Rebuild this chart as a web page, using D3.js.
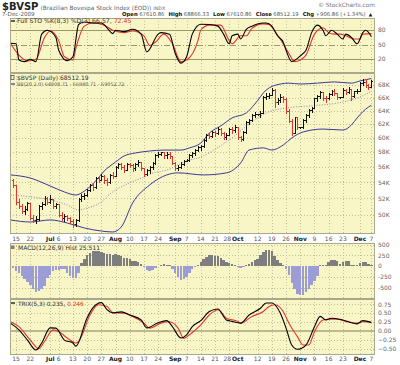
<!DOCTYPE html>
<html>
<head>
<meta charset="utf-8">
<script src="https://cdn.jsdelivr.net/npm/d3@7"></script>
<style>
body { margin: 0; background: #fff; }
text { font-family: "DejaVu Sans", sans-serif; }
</style>
</head>
<body>
<div id="app"></div>
<script>
// trading day index 0 = 12-Jun-2009 ... 126 = 7-Dec-2009 (weekdays)
// prices in thousands
let open = [
54.3, 53.6, 51.5, 51.0, 50.4, 50.6, 51.4, 49.6, 49.3, 49.5,
51.0, 51.2, 52.0, 51.5, 51.9, 51.0, 51.2, 50.0, 49.6, 49.8,
49.6, 49.2, 48.9, 49.3, 51.9, 52.2, 52.4, 53.0, 53.6, 53.3,
54.5, 54.3, 54.8, 54.2, 54.0, 54.9, 54.8, 56.0, 56.3, 56.0,
55.6, 56.4, 56.2, 55.8, 56.3, 56.6, 55.8, 55.0, 55.6, 55.9,
56.5, 57.6, 57.7, 57.9, 57.5, 57.7, 57.4, 56.5, 55.8, 56.0,
56.4, 56.8, 56.9, 57.5, 57.8, 58.3, 58.6, 58.8, 59.6, 60.4,
60.2, 60.8, 60.6, 61.2, 60.7, 60.0, 60.4, 61.2, 61.0, 61.5,
60.0, 59.8, 60.8, 62.2, 62.5, 63.3, 63.4, 63.4, 63.6, 66.0,
66.2, 66.4, 67.2, 65.3, 65.6, 66.0, 65.7, 63.8, 62.4, 60.7,
62.9, 61.5, 61.5, 62.5, 63.2, 64.0, 64.3, 65.8, 66.1, 66.8,
65.9, 65.8, 66.5, 66.9, 66.7, 66.0, 66.0, 67.2, 66.8, 67.3,
66.1, 66.9, 67.0, 68.3, 68.4, 68.0, 67.61
];
let high = [
54.4, 53.6, 51.9, 51.3, 51.1, 51.6, 51.4, 50.0, 49.9, 51.2,
51.6, 52.3, 52.2, 52.4, 51.9, 51.5, 51.3, 50.3, 50.1, 50.0,
49.8, 49.5, 49.5, 52.0, 52.5, 52.7, 53.2, 53.8, 53.9, 54.7,
54.8, 55.1, 54.9, 54.6, 55.1, 55.3, 56.2, 56.6, 56.5, 56.3,
56.6, 56.6, 56.4, 56.5, 56.9, 56.7, 55.8, 55.8, 56.1, 56.7,
57.8, 58.1, 58.1, 58.1, 58.0, 58.0, 57.5, 56.7, 56.3, 56.7,
57.0, 57.1, 57.7, 58.0, 58.5, 58.9, 59.0, 59.8, 60.6, 60.7,
61.0, 61.0, 61.5, 61.4, 60.9, 60.7, 61.4, 61.5, 61.8, 61.6,
60.3, 61.0, 62.4, 62.8, 63.5, 63.8, 63.5, 63.9, 66.2, 66.7,
66.8, 67.5, 67.3, 66.0, 66.5, 66.3, 65.9, 64.2, 62.8, 63.1,
63.0, 61.6, 62.7, 63.5, 64.2, 64.6, 66.0, 66.4, 67.0, 66.9,
66.2, 66.7, 67.2, 67.3, 66.8, 66.1, 67.5, 67.4, 67.6, 67.3,
67.1, 67.3, 68.5, 68.9, 68.9, 68.2, 68.87
];
let low = [
53.4, 51.3, 50.8, 50.2, 50.1, 50.5, 49.5, 49.1, 49.0, 49.4,
50.6, 51.1, 51.2, 51.4, 50.8, 50.8, 49.8, 49.4, 49.2, 49.3,
49.0, 48.5, 48.7, 49.2, 51.6, 51.9, 52.2, 52.8, 53.0, 53.2,
54.0, 54.2, 53.9, 53.6, 53.9, 54.5, 54.8, 55.8, 55.7, 55.3,
55.5, 55.9, 55.4, 55.6, 56.1, 55.6, 54.8, 54.9, 55.1, 55.7,
56.4, 57.3, 57.5, 57.2, 57.2, 57.1, 56.3, 55.6, 55.6, 55.8,
56.2, 56.7, 56.8, 57.3, 57.6, 58.1, 58.2, 58.7, 59.5, 59.9,
60.1, 60.2, 60.5, 60.4, 59.8, 59.8, 60.3, 60.7, 60.8, 59.8,
59.5, 59.7, 60.7, 62.0, 62.4, 63.0, 63.3, 63.0, 63.6, 65.7,
65.8, 66.3, 64.5, 64.9, 65.3, 65.2, 63.6, 62.2, 60.3, 60.6,
61.2, 61.4, 61.3, 62.3, 63.0, 63.7, 64.3, 65.4, 65.9, 65.5,
65.2, 65.7, 66.3, 66.4, 65.7, 65.9, 66.0, 66.5, 66.6, 65.6,
66.0, 66.6, 67.0, 68.0, 67.6, 67.3, 67.61
];
let close = [
53.6, 51.5, 51.0, 50.4, 50.6, 51.4, 49.6, 49.3, 49.5, 51.0,
51.2, 52.0, 51.5, 51.9, 51.0, 51.2, 50.0, 49.6, 49.8, 49.6,
49.2, 48.9, 49.3, 51.9, 52.2, 52.4, 53.0, 53.6, 53.3, 54.5,
54.3, 54.8, 54.2, 54.0, 54.9, 54.8, 56.0, 56.3, 56.0, 55.6,
56.4, 56.2, 55.8, 56.3, 56.6, 55.8, 55.0, 55.6, 55.9, 56.5,
57.6, 57.7, 57.9, 57.5, 57.7, 57.4, 56.5, 55.8, 56.0, 56.4,
56.8, 56.9, 57.5, 57.8, 58.3, 58.6, 58.8, 59.6, 60.4, 60.2,
60.8, 60.6, 61.2, 60.7, 60.0, 60.4, 61.2, 61.0, 61.5, 60.0,
59.8, 60.8, 62.2, 62.5, 63.3, 63.4, 63.4, 63.6, 66.0, 66.2,
66.4, 67.2, 65.3, 65.6, 66.0, 65.7, 63.8, 62.4, 60.7, 62.9,
61.5, 61.5, 62.5, 63.2, 64.0, 64.3, 65.8, 66.1, 66.8, 65.9,
65.8, 66.5, 66.9, 66.7, 66.0, 66.0, 67.2, 66.8, 67.3, 66.1,
66.9, 67.0, 68.3, 68.4, 68.0, 67.6, 68.51
];

// Bollinger bands: [day index, value]
let bbUpper = [[-1,54.97],[6,54.57],[13,53.55],[18,52.8],[22,52.42],[25,52.9],[29,54.19],[32,55.48],[36,56.68],[39,57.49],[43,57.9],[48,58.17],[53,58.3],[59,58.3],[62,58.6],[66,59.28],[69,60.7],[73,61.72],[77,62.9],[82,63.65],[85,65.0],[89,67.2],[94,68.16],[97,68.3],[101,68.16],[107,68.3],[113,68.5],[119,68.3],[122,68.65],[126,69.05]];
let bbMid = [[-1,52.42],[7,52.17],[13,51.81],[19,51.2],[23,50.6],[26,50.84],[31,51.56],[34,52.54],[40,53.8],[46,54.7],[49,55.2],[54,55.6],[61,56.81],[66,57.35],[73,58.9],[77,60.0],[83,62.0],[89,63.65],[96,64.4],[104,64.7],[116,65.32],[122,66.1],[126,66.98]];
let bbLower = [[-1,49.42],[6,49.18],[13,49.42],[19,49.06],[25,48.49],[31,48.14],[35,48.03],[38,48.6],[42,51.44],[48,53.68],[54,54.97],[58,55.24],[67,54.97],[75,55.24],[80,56.54],[83,58.31],[88,58.6],[91,58.31],[95,59.0],[98,59.99],[102,60.85],[109,61.27],[116,61.13],[119,61.86],[121,62.9],[125,64.55],[126,64.81]];

// Full stochastics
let stoK = [[-1,52.6],[1,51.4],[2,18],[4,14.6],[6,19.4],[8,14.6],[10,71.4],[12,79.4],[15,64.6],[16,38],[19,16.6],[21,24.6],[23,91.4],[25,96.6],[28,94.6],[31,94.6],[33,84.6],[35,72.6],[36,79.4],[39,76.6],[42,81.4],[45,71.4],[47,34.6],[51,71.4],[52,74.6],[55,71.4],[57,31.4],[59,11.4],[61,24.6],[63,71.4],[66,92],[69,91.4],[72,88],[74,71.4],[76,51.4],[77,68],[79,71.4],[80,61.4],[82,81.4],[84,88],[88,94.6],[89,94.6],[91,88],[93,68],[95,54.6],[96,38],[98,14.6],[100,21.4],[102,31.4],[103,38],[105,74.6],[107,90],[109,79.4],[110,68],[112,79.4],[114,71.4],[116,61.4],[117,71.4],[119,64.6],[121,51.4],[123,74.6],[124,79.4],[126,66.57]];
let stoD = [[-1,52.6],[2,28],[5,16],[8,19.4],[11,64.6],[13,78],[16,58],[18,24.6],[21,18],[22,41.4],[25,88],[28,94.6],[32,90],[35,79.4],[39,74.6],[42,78],[46,68],[48,48],[50,54.6],[53,71.4],[56,51.4],[59,14.6],[61,18],[65,58],[66,80],[69,90],[73,90],[76,58],[77,51.4],[80,68],[82,68],[84,83.4],[88,92.6],[90,91.4],[92,78],[95,51.4],[97,31.4],[99,14.6],[101,18],[103,28],[106,71.4],[109,84.6],[111,74.6],[113,71.4],[115,71.4],[117,68],[120,61.4],[122,61.4],[123,71.4],[126,72.45]];

// MACD histogram, one value per day
let macdHist = [
-40, -100, -160, -230, -300, -360, -430, -520, -600, -580,
-520, -450, -280, -200, -120, -90, -80, -70, -60, -150,
-230, -280, -260, -150, 80, 170, 250, 310, 340, 350,
345, 330, 300, 280, 290, 270, 280, 270, 240, 200,
190, 160, 130, 110, 100, 60, -20, -80, -110, -90,
-40, 10, 40, 50, 40, 20, -60, -150, -250, -320,
-300, -250, -150, -60, -20, 40, 100, 160, 220, 250,
255, 240, 230, 200, 150, 100, 80, 60, 40, -20,
-50, -20, 30, 60, 100, 140, 160, 250, 330, 370,
370, 340, 230, 150, 80, 30, -60, -200, -380, -520,
-640, -670, -660, -600, -520, -430, -330, -220, 20, 30,
20, 100, 150, 140, 110, 60, 100, 120, 110, 40,
30, 20, 80, 100, 90, 50, 25.5
];

// TRIX and its signal
let trix = [[-1,0.22],[2,0.03],[5,-0.26],[8,-0.54],[10,-0.34],[13,0.085],[15,0.08],[18,-0.26],[21,-0.34],[22,-0.43],[26,0.37],[28,0.65],[31,0.8],[33,0.6],[35,0.51],[38,0.54],[41,0.45],[45,0.31],[47,0.085],[51,0.23],[54,0.29],[56,0.12],[59,-0.2],[61,-0.11],[63,0.12],[66,0.29],[69,0.55],[72,0.62],[75,0.31],[77,0.27],[80,0.22],[83,0.45],[87,0.64],[89,0.79],[91,0.79],[94,0.5],[96,0.08],[98,-0.4],[100,-0.52],[103,-0.4],[106,0.12],[108,0.41],[110,0.31],[112,0.36],[116,0.31],[121,0.2],[123,0.29],[126,0.235]];
let trixSig = [[-1,0.26],[2,0.12],[6,-0.26],[9,-0.5],[11,-0.3],[14,0.03],[16,-0.02],[19,-0.2],[22,-0.34],[23,-0.3],[27,0.45],[30,0.74],[33,0.69],[35,0.52],[39,0.5],[42,0.41],[46,0.22],[48,0.08],[52,0.22],[55,0.26],[58,0.08],[60,-0.21],[62,-0.11],[66,0.17],[69,0.45],[72,0.6],[75,0.36],[79,0.27],[80,0.22],[84,0.41],[88,0.55],[90,0.69],[92,0.74],[95,0.55],[97,0.22],[100,-0.16],[102,-0.4],[104,-0.4],[106,-0.02],[109,0.31],[111,0.33],[114,0.33],[117,0.27],[121,0.22],[123,0.26],[126,0.246]];

// x axis labels: [day index, text, is month]
let dateTicks = [[1,"15",0],[6,"22",0],[13,"Jul",1],[16,"6",0],[21,"13",0],[26,"20",0],[31,"27",0],[36,"Aug",1],[41,"10",0],[46,"17",0],[51,"24",0],[57,"Sep",1],[61,"7",0],[66,"14",0],[71,"21",0],[76,"28",0],[79,"Oct",1],[86,"12",0],[91,"19",0],[96,"26",0],[101,"Nov",1],[106,"9",0],[111,"16",0],[116,"23",0],[122,"Dec",1],[126,"7",0]];
let priceTicks = [68, 66, 64, 62, 60, 58, 56, 54, 52, 50];
let stoTicks = [80, 50, 20];
let macdTicks = [500, 250, 0, -250, -500];
let trixTicks = [0.75, 0.50, 0.25, 0.00, -0.25, -0.50];

let W = 400, H = 365;
let left = 10, right = 375;
let bg = "#f8f5c6";
let gridCol = "#c4c19a";

let svg = d3.select("#app").append("svg")
    .attr("width", W).attr("height", H)
    .style("display", "block");

let x = d3.scaleLinear().domain([-1.15, 127.3]).range([left, right]);

let panels = {
    sto: {top: 18, bottom: 73},
    price: {top: 73, bottom: 234},
    macd: {top: 243, bottom: 299},
    trix: {top: 299, bottom: 355}
};

let yPrice = d3.scaleLog().domain([50, 68]).range([215, 85]);
let ySto = d3.scaleLinear().domain([20, 80]).range([59, 30]);
let yMacd = d3.scaleLinear().domain([-500, 500]).range([288, 244.5]);
let yTrix = d3.scaleLinear().domain([-0.5, 0.75]).range([348.6, 304.4]);

// panel backgrounds
Object.values(panels).forEach(p => {
    svg.append("rect")
        .attr("x", left).attr("y", p.top)
        .attr("width", right - left).attr("height", p.bottom - p.top)
        .attr("fill", bg);
});

// vertical grid
Object.values(panels).forEach(p => {
    svg.append("g").selectAll("line")
        .data(dateTicks)
        .enter().append("line")
            .attr("x1", d => Math.round(x(d[0])) + 0.5)
            .attr("x2", d => Math.round(x(d[0])) + 0.5)
            .attr("y1", p.top).attr("y2", p.bottom)
            .attr("stroke", gridCol)
            .attr("stroke-dasharray", "1,2");
});

function hGrid(vals, scale, dash) {
    svg.append("g").selectAll("line")
        .data(vals)
        .enter().append("line")
            .attr("x1", left).attr("x2", right)
            .attr("y1", d => Math.round(scale(d)) + 0.5)
            .attr("y2", d => Math.round(scale(d)) + 0.5)
            .attr("stroke", gridCol)
            .attr("stroke-dasharray", dash);
}
hGrid(priceTicks, yPrice, "1,2");
hGrid(macdTicks.filter(d => d !== 0), yMacd, "1,2");
hGrid(trixTicks.filter(d => d !== 0), yTrix, "1,2");

// STO reference lines
[80, 20].forEach(v => {
    svg.append("line")
        .attr("x1", left).attr("x2", right)
        .attr("y1", Math.round(ySto(v)) + 0.5).attr("y2", Math.round(ySto(v)) + 0.5)
        .attr("stroke", "#9a9866");
});
svg.append("line")
    .attr("x1", left).attr("x2", right)
    .attr("y1", Math.round(ySto(50)) + 0.5).attr("y2", Math.round(ySto(50)) + 0.5)
    .attr("stroke", "#9a9866")
    .attr("stroke-dasharray", "6,2,1,2");

// TRIX zero line
svg.append("line")
    .attr("x1", left).attr("x2", right)
    .attr("y1", yTrix(0)).attr("y2", yTrix(0))
    .attr("stroke", "#bdb98e")
    .attr("stroke-width", 2);

let curve = d3.curveMonotoneX;
function drawLine(data, scale, color, width, dash) {
    let line = d3.line()
        .x(d => x(d[0]))
        .y(d => scale(d[1]))
        .curve(curve);
    let p = svg.append("path")
        .datum(data)
        .attr("fill", "none")
        .attr("stroke", color)
        .attr("stroke-width", width)
        .attr("d", line);
    if (dash) p.attr("stroke-dasharray", dash);
    return p;
}

// STO lines
drawLine(stoD, ySto, "#e8342a", 1.1);
drawLine(stoK, ySto, "#000", 1.1);

// Bollinger bands
drawLine(bbUpper, yPrice, "#3a3a96", 1);
drawLine(bbLower, yPrice, "#3a3a96", 1);
drawLine(bbMid, yPrice, "#8c8ca8", 1, "1,1.6");

// OHLC bars
let bars = svg.append("g").attr("shape-rendering", "crispEdges");
close.forEach((c, i) => {
    let prev = i > 0 ? close[i - 1] : open[i];
    let col = c >= prev ? "#111" : "#e0342c";
    let cx = Math.round(x(i)) + 0.5;
    bars.append("line")
        .attr("x1", cx).attr("x2", cx)
        .attr("y1", yPrice(high[i])).attr("y2", yPrice(low[i]) + 0.5)
        .attr("stroke", col);
    bars.append("line")
        .attr("x1", cx - 1.5).attr("x2", cx)
        .attr("y1", yPrice(open[i])).attr("y2", yPrice(open[i]))
        .attr("stroke", col);
    bars.append("line")
        .attr("x1", cx).attr("x2", cx + 1.5)
        .attr("y1", yPrice(c)).attr("y2", yPrice(c))
        .attr("stroke", col);
});

// MACD histogram
svg.append("g").attr("shape-rendering", "crispEdges")
    .selectAll("rect")
    .data(macdHist)
    .enter().append("rect")
        .attr("x", (d, i) => x(i) - 1.2)
        .attr("width", 2.4)
        .attr("y", d => d >= 0 ? yMacd(d) : yMacd(0))
        .attr("height", d => Math.abs(yMacd(d) - yMacd(0)))
        .attr("fill", d => d >= 0 ? "#7e7e7e" : "#9c9cd6");

// TRIX
drawLine(trixSig, yTrix, "#e8342a", 1.1);
drawLine(trix, yTrix, "#000", 1.1);

// panel borders
Object.values(panels).forEach(p => {
    svg.append("rect")
        .attr("x", left + 0.5).attr("y", p.top + 0.5)
        .attr("width", right - left - 1).attr("height", p.bottom - p.top - 1)
        .attr("fill", "none")
        .attr("stroke", "#aaa88a");
});

// right axes
function rightAxis(vals, scale, fmt) {
    svg.append("g").selectAll("text")
        .data(vals)
        .enter().append("text")
            .attr("x", 378)
            .attr("y", d => scale(d) + 2.2)
            .attr("font-size", 6)
            .attr("fill", "#666")
            .text(fmt);
}
rightAxis(priceTicks, yPrice, d => d + "K");
rightAxis(stoTicks, ySto, d => d);
rightAxis(macdTicks, yMacd, d => d);
rightAxis(trixTicks, yTrix, d => d3.format(".2f")(d));

// date labels ("28" sits tight against "Oct", nudge it left)
[241.2, 361.2].forEach(yy => {
    svg.append("g").selectAll("text")
        .data(dateTicks)
        .enter().append("text")
            .attr("x", d => x(d[0]) - (d[1] === "28" ? 2 : 0))
            .attr("y", yy)
            .attr("text-anchor", "middle")
            .attr("font-size", 6)
            .attr("font-weight", d => d[2] ? "bold" : "normal")
            .attr("fill", d => d[2] ? "#222" : "#555")
            .text(d => d[1]);
});

// header
let t1 = svg.append("text").attr("x", 2).attr("y", 9.5).attr("fill", "#222");
t1.append("tspan").attr("font-size", 10).attr("font-weight", "bold").text("$BVSP");
t1.append("tspan").attr("font-size", 5.8).attr("fill", "#666").attr("dx", 2).text("(Brazilian Bovespa Stock Index (EOD))");
t1.append("tspan").attr("font-size", 4.8).attr("fill", "#666").attr("dx", 2).text("INDX");

svg.append("text").attr("x", 375).attr("y", 6.5).attr("text-anchor", "end")
    .attr("font-size", 5.8).attr("fill", "#777").text("© StockCharts.com");

svg.append("text").attr("x", 2).attr("y", 16.3)
    .attr("font-size", 5.6).attr("fill", "#555").text("7-Dec-2009");

let quote = [["Open", "67610.86"], ["High", "68866.33"], ["Low", "67610.86"], ["Close", "68512.19"], ["Chg", "+906.86 (+1.34%)"]];
let t2 = svg.append("text").attr("x", 122).attr("y", 16.3).attr("font-size", 5.3);
quote.forEach((q, k) => {
    t2.append("tspan").attr("font-weight", "bold").attr("fill", "#111").attr("dx", k ? 4 : 0).text(q[0]);
    t2.append("tspan").attr("fill", "#555").attr("dx", 1.5).text(q[1]);
});
t2.append("tspan").attr("fill", "#111").attr("dx", 3).attr("font-size", 4.5).text("▲");

// legends
function legendLine(y, color) {
    svg.append("line").attr("x1", 11).attr("x2", 15).attr("y1", y).attr("y2", y)
        .attr("stroke", color).attr("stroke-width", 1.2);
}
legendLine(21, "#000");
let ls = svg.append("text").attr("x", 17).attr("y", 23.2).attr("font-size", 6.2).attr("fill", "#333");
ls.append("tspan").text("Full STO %K(8,3) %D(3) 66.57, ");
ls.append("tspan").attr("fill", "#e8342a").text("72.45");

svg.append("rect").attr("x", 11).attr("y", 75.5).attr("width", 3).attr("height", 4)
    .attr("fill", "none").attr("stroke", "#555").attr("stroke-width", 0.8);
svg.append("text").attr("x", 17).attr("y", 79.6).attr("font-size", 6).attr("fill", "#333")
    .text("$BVSP (Daily) 68512.19");
legendLine(84, "#3a3a96");
svg.append("text").attr("x", 17).attr("y", 86.4).attr("font-size", 4.9).attr("fill", "#555")
    .text("BB(20,2.0) 64808.71 - 66980.71 - 69052.72");

svg.append("rect").attr("x", 11).attr("y", 245.5).attr("width", 3.5).attr("height", 3.5)
    .attr("fill", "#7e7e7e");
svg.append("text").attr("x", 18).attr("y", 249.6).attr("font-size", 6).attr("fill", "#333")
    .text("MACD(12,26,9) Hist 25.511");

legendLine(303, "#000");
let lt = svg.append("text").attr("x", 18).attr("y", 305.6).attr("font-size", 5.8).attr("fill", "#333");
lt.append("tspan").text("TRIX(5,3) 0.235, ");
lt.append("tspan").attr("fill", "#e8342a").text("0.246");
</script>
</body>
</html>
